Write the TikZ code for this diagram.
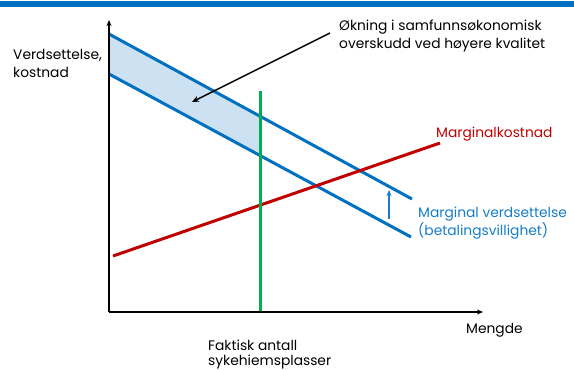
\documentclass[tikz,border=0pt]{standalone}
\usepackage{fontspec}
\setmainfont{Poppins}
\usetikzlibrary{arrows.meta}
\definecolor{barblue}{RGB}{0,112,192}
\definecolor{lineblue}{RGB}{0,112,192}
\definecolor{txtblue}{RGB}{22,125,200}
\definecolor{mcred}{RGB}{192,0,0}
\definecolor{mcgreen}{RGB}{0,176,80}
\definecolor{bandfill}{RGB}{204,225,242}
\tikzset{
  lbl/.style={anchor=base west, inner sep=0pt, font=\fontsize{13.8}{17.5}\selectfont, align=left},
  axisline/.style={line width=1.8pt, -{Stealth[length=6pt,width=5pt]}},
  curve/.style={line width=3pt},
}
\begin{document}
\begin{tikzpicture}[x=1pt,y=-1pt]
\useasboundingbox (0,0) rectangle (574,370);
\fill[barblue] (0,1) rectangle (574,7);
% coordinates
\coordinate (o) at (109,312);
\coordinate (ytop) at (109,20);
\coordinate (xend) at (483,312);
\coordinate (u0) at (109,34);
\coordinate (u1) at (412,199);
\coordinate (l0) at (109,74);
\coordinate (l1) at (411,237);
\coordinate (ug) at (260,116.4);
\coordinate (lg) at (260,155.6);
\coordinate (g0) at (260,91);
\coordinate (g1) at (260,312);
\coordinate (r0) at (113,256);
\coordinate (r1) at (440,143);
\coordinate (a0) at (330,33);
\coordinate (a1) at (192,102);
\coordinate (s0) at (389,219);
\coordinate (s1) at (389,190);
% shading
\fill[bandfill] (u0) -- (ug) -- (lg) -- (l0) -- cycle;
% curves
\draw[curve, lineblue] (u0) -- (u1);
\draw[curve, lineblue] (l0) -- (l1);
\draw[curve, mcred] (r0) -- (r1);
\draw[curve, mcgreen] (g0) -- (g1);
% axes
\draw[axisline] (o) -- (ytop);
\draw[axisline] (o) -- (xend);
% arrows
\draw[line width=1.5pt, -{Stealth[length=7pt,width=6pt]}] (a0) -- (a1);
\draw[line width=1.6pt, txtblue, -{Stealth[length=6pt,width=5pt]}] (s0) -- (s1);
% labels (base anchor = last line's baseline)
\node[lbl] (ylab) at (13,77) {Verdsettelse,\\kostnad};
\node[lbl] (ann) at (339,48) {Økning i samfunnsøkonomisk\\overskudd ved høyere kvalitet};
\node[lbl, text=mcred] (mc) at (436,137) {Marginalkostnad};
\node[lbl, text=txtblue] (mv) at (418,235) {Marginal verdsettelse\\(betalingsvillighet)};
\node[lbl] (xlab) at (466,333) {Mengde};
\node[lbl, font=\fontsize{13.8}{15}\selectfont] (fa) at (208,365) {Faktisk antall\\sykehiemsplasser};
\end{tikzpicture}
\end{document}
